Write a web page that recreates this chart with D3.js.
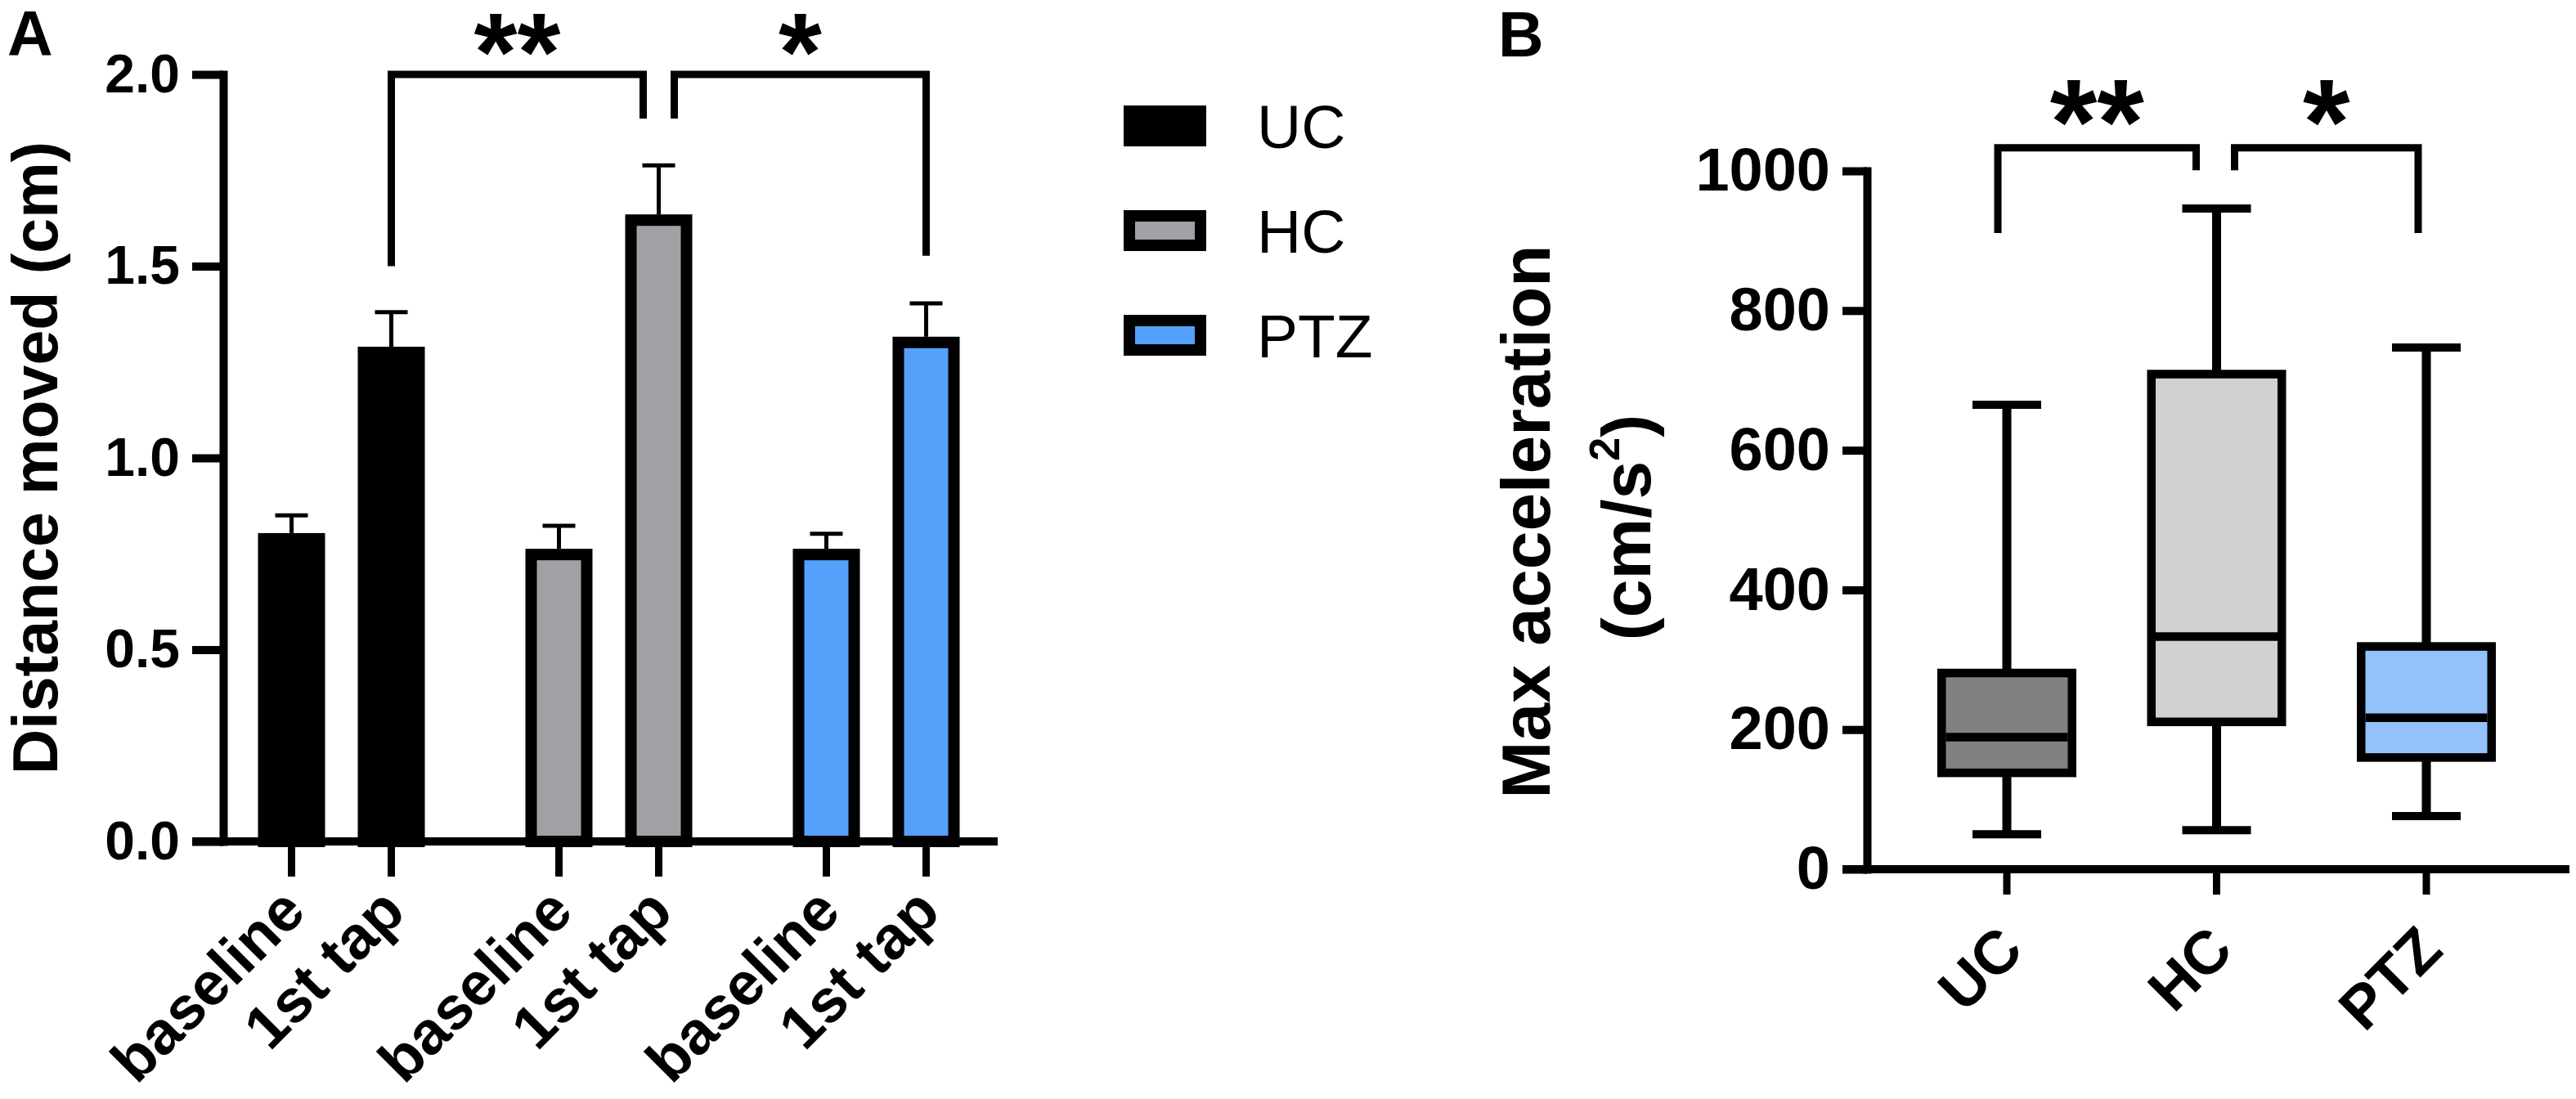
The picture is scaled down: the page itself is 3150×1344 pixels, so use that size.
<!DOCTYPE html>
<html>
<head>
<meta charset="utf-8">
<script src="https://cdn.jsdelivr.net/npm/d3@7"></script>
<style>
  body { margin: 0; background: #fff; }
  svg { display: block; font-family: "Liberation Sans", Arial, sans-serif; }
</style>
</head>
<body>
<svg id="chart" width="3150" height="1344"></svg>
<script>
// Panel A: distance moved (mean + SEM)
const groups = ["UC", "HC", "PTZ"];
const conditions = ["baseline", "1st tap"];
const distMean = [[0.804, 1.290], [0.763, 1.635], [0.763, 1.316]];
const distSem = [[0.046, 0.090], [0.060, 0.128], [0.039, 0.087]];
const distTicks = [0, 0.5, 1.0, 1.5, 2.0];
const barFill = ["#000000", "#a1a1a5", "#55a0fa"];

// Panel B: max acceleration box plots
const accMin = [50, 56, 76];
const accQ1 = [138, 211, 160];
const accMedian = [189, 333, 217];
const accQ3 = [281, 709, 319];
const accMax = [665, 946, 747];
const accTicks = [0, 200, 400, 600, 800, 1000];
const boxFill = ["#818181", "#d0d0d2", "#93c2fa"];

// Significance brackets (group index pairs, heights in data units)
const sigA = [
  { text: "**", a: 0, b: 1, top: 2.0, legA: 1.50, legB: 1.885 },
  { text: "*", a: 1, b: 2, top: 2.0, legA: 1.885, legB: 1.527 }
];
const sigB = [
  { text: "**", a: 0, b: 1, top: 1033, legA: 911, legB: 1001 },
  { text: "*", a: 1, b: 2, top: 1033, legA: 1001, legB: 911 }
];

const svg = d3.select("#chart");

function styleAxis(g, size) {
  g.attr("font-family", null).attr("font-size", null);
  g.select(".domain").attr("stroke-width", 10).attr("stroke-linecap", "square");
  g.selectAll(".tick line").attr("stroke-width", 10);
  g.selectAll(".tick text")
    .attr("font-size", size)
    .attr("font-weight", "bold")
    .attr("fill", "#000");
}

function bracket(g, x1, x2, yTop, y1, y2, text, fontSize, textGap) {
  g.append("path")
    .attr("d", `M${x1},${y1}V${yTop}H${x2}V${y2}`)
    .attr("fill", "none")
    .attr("stroke", "#000")
    .attr("stroke-width", 9)
    .attr("stroke-linecap", "butt")
    .attr("stroke-linejoin", "miter");
  g.append("text")
    .attr("x", (x1 + x2) / 2)
    .attr("y", yTop + textGap)
    .attr("text-anchor", "middle")
    .attr("font-size", fontSize)
    .attr("font-weight", "bold")
    .text(text);
}

// ---------- Panel A ----------
const yA = d3.scaleLinear().domain([0, 2]).range([1029, 91]);
const xA = d3.scaleBand().domain(groups).range([254, 1235]);
const xInner = d3.scaleBand().domain(conditions).range([41.5, 285.5]);
const barW = 82, barStroke = 14;
const cxA = (i, j) => xA(groups[i]) + xInner(conditions[j]) + xInner.bandwidth() / 2;

const gA = svg.append("g");

gA.append("text")
  .attr("x", 9).attr("y", 68)
  .attr("font-size", 77).attr("font-weight", "bold")
  .text("A");

// bars
groups.forEach((grp, i) => {
  conditions.forEach((c, j) => {
    const cx = cxA(i, j);
    const v = distMean[i][j];
    gA.append("rect")
      .attr("x", cx - barW / 2 + barStroke / 2)
      .attr("y", yA(v) + barStroke / 2)
      .attr("width", barW - barStroke)
      .attr("height", yA(0) - yA(v) - barStroke / 2)
      .attr("fill", barFill[i])
      .attr("stroke", "#000")
      .attr("stroke-width", barStroke);
    // error bar
    const ye = yA(v + distSem[i][j]);
    gA.append("line")
      .attr("x1", cx).attr("x2", cx)
      .attr("y1", yA(v)).attr("y2", ye)
      .attr("stroke", "#000").attr("stroke-width", 5);
    gA.append("line")
      .attr("x1", cx - 20).attr("x2", cx + 20)
      .attr("y1", ye).attr("y2", ye)
      .attr("stroke", "#000").attr("stroke-width", 5);
  });
});

// y axis
const axA = gA.append("g")
  .attr("transform", "translate(273,0)")
  .call(d3.axisLeft(yA).tickValues(distTicks).tickFormat(d3.format(".1f"))
    .tickSize(38).tickSizeOuter(0).tickPadding(15));
styleAxis(axA, 66);

// x axis
gA.append("line")
  .attr("x1", 235).attr("x2", 1220)
  .attr("y1", yA(0)).attr("y2", yA(0))
  .attr("stroke", "#000").attr("stroke-width", 10);

groups.forEach((grp, i) => {
  conditions.forEach((c, j) => {
    const cx = cxA(i, j);
    gA.append("line")
      .attr("x1", cx).attr("x2", cx)
      .attr("y1", yA(0)).attr("y2", yA(0) + 43)
      .attr("stroke", "#000").attr("stroke-width", 9);
    gA.append("text")
      .attr("transform", `translate(${cx + 20},${1118}) rotate(-45)`)
      .attr("text-anchor", "end")
      .attr("font-size", 74).attr("font-weight", "bold")
      .text(c);
  });
});

// y title
gA.append("text")
  .attr("transform", "translate(70,560) rotate(-90)")
  .attr("text-anchor", "middle")
  .attr("font-size", 77).attr("font-weight", "bold")
  .text("Distance moved (cm)");

// brackets
sigA.forEach(s => {
  const xa = cxA(s.a, 1) + (s.a === 1 ? 19 : 0);
  const xb = cxA(s.b, 1) - (s.b === 1 ? 19 : 0);
  bracket(gA, xa, xb, yA(s.top), yA(s.legA), yA(s.legB), s.text, 136, 19);
});

// legend
const legend = gA.append("g");
groups.forEach((grp, i) => {
  const cy = 154 + i * 128;
  legend.append("rect")
    .attr("x", 1374 + 7).attr("y", cy - 25 + 7)
    .attr("width", 101 - 14).attr("height", 50 - 14)
    .attr("fill", barFill[i])
    .attr("stroke", "#000").attr("stroke-width", 14);
  legend.append("text")
    .attr("x", 1537).attr("y", cy + 27)
    .attr("font-size", 75)
    .text(grp);
});

// ---------- Panel B ----------
const yB = d3.scaleLinear().domain([0, 1000]).range([1063, 209]);
const xB = d3.scalePoint().domain(groups).range([2454, 2967]);
const boxW = 170, boxStroke = 10.5, capW = 84;

const gB = svg.append("g");

gB.append("text")
  .attr("x", 1832).attr("y", 69)
  .attr("font-size", 77).attr("font-weight", "bold")
  .text("B");

groups.forEach((grp, i) => {
  const cx = xB(grp);
  // whiskers
  [[accMax[i], accQ3[i]], [accQ1[i], accMin[i]]].forEach(([a, b]) => {
    gB.append("line")
      .attr("x1", cx).attr("x2", cx)
      .attr("y1", yB(a)).attr("y2", yB(b))
      .attr("stroke", "#000").attr("stroke-width", 11);
  });
  [accMax[i], accMin[i]].forEach(v => {
    gB.append("line")
      .attr("x1", cx - capW / 2).attr("x2", cx + capW / 2)
      .attr("y1", yB(v)).attr("y2", yB(v))
      .attr("stroke", "#000").attr("stroke-width", 10);
  });
  // box
  gB.append("rect")
    .attr("x", cx - boxW / 2 + boxStroke / 2)
    .attr("y", yB(accQ3[i]))
    .attr("width", boxW - boxStroke)
    .attr("height", yB(accQ1[i]) - yB(accQ3[i]))
    .attr("fill", boxFill[i])
    .attr("stroke", "#000").attr("stroke-width", boxStroke);
  gB.append("line")
    .attr("x1", cx - boxW / 2 + boxStroke).attr("x2", cx + boxW / 2 - boxStroke)
    .attr("y1", yB(accMedian[i])).attr("y2", yB(accMedian[i]))
    .attr("stroke", "#000").attr("stroke-width", boxStroke);
});

// y axis
const axB = gB.append("g")
  .attr("transform", "translate(2283,0)")
  .call(d3.axisLeft(yB).tickValues(accTicks).tickFormat(d3.format("d"))
    .tickSize(30).tickSizeOuter(0).tickPadding(15));
styleAxis(axB, 74);

// x axis
gB.append("line")
  .attr("x1", 2253).attr("x2", 3142)
  .attr("y1", yB(0)).attr("y2", yB(0))
  .attr("stroke", "#000").attr("stroke-width", 10);

groups.forEach(grp => {
  const cx = xB(grp);
  gB.append("line")
    .attr("x1", cx).attr("x2", cx)
    .attr("y1", yB(0)).attr("y2", yB(0) + 31)
    .attr("stroke", "#000").attr("stroke-width", 9);
  gB.append("text")
    .attr("transform", `translate(${cx + 23},${1165}) rotate(-45)`)
    .attr("text-anchor", "end")
    .attr("font-size", 74).attr("font-weight", "bold")
    .text(grp);
});

// y title (two lines)
gB.append("text")
  .attr("transform", "translate(1895,638) rotate(-90)")
  .attr("text-anchor", "middle")
  .attr("font-size", 84).attr("font-weight", "bold")
  .text("Max acceleration");
const unit = gB.append("text")
  .attr("transform", "translate(2018,645) rotate(-90)")
  .attr("text-anchor", "middle")
  .attr("font-size", 84).attr("font-weight", "bold");
unit.append("tspan").text("(cm/s");
unit.append("tspan").attr("font-size", 52).attr("dy", -38).text("2");
unit.append("tspan").attr("dy", 38).text(")");

// brackets
const legOffB = [[-11, -25], [22, -10]];
sigB.forEach((s, k) => {
  const xa = xB(groups[s.a]) + legOffB[k][0];
  const xb = xB(groups[s.b]) + legOffB[k][1];
  bracket(gB, xa, xb, yB(s.top), yB(s.legA), yB(s.legB), s.text, 148, 19);
});
</script>
</body>
</html>
